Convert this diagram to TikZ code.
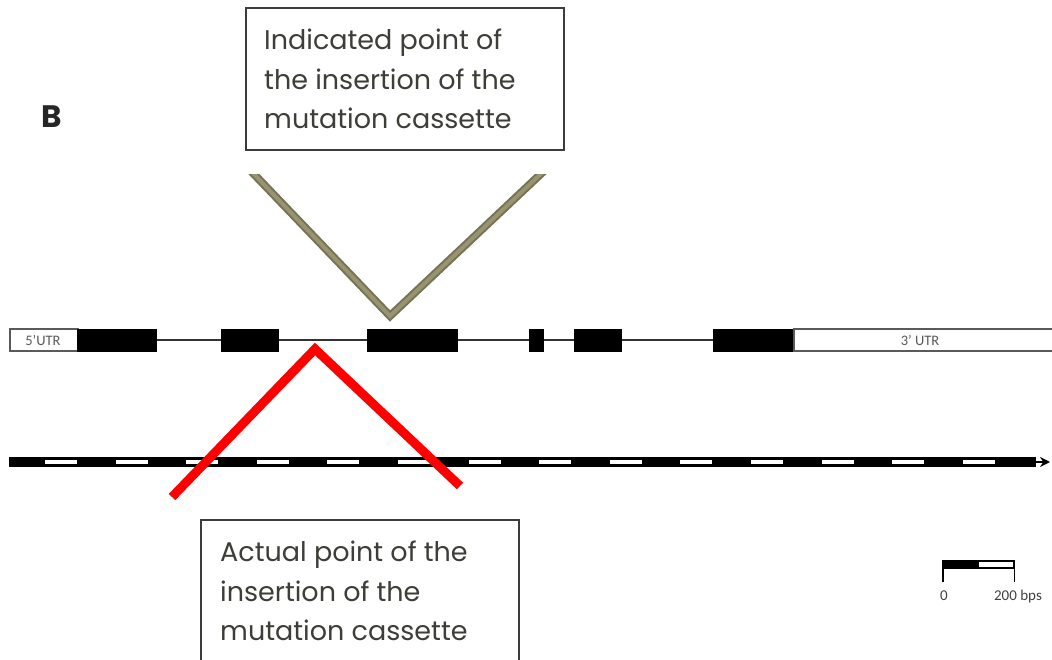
\documentclass[tikz,border=0pt]{standalone}
\usepackage{fontspec}
\setmainfont{Poppins}
\newfontfamily\smallfont{Carlito}
\usetikzlibrary{arrows.meta}
\definecolor{txtgray}{RGB}{62,62,56}
\definecolor{boxline}{RGB}{60,60,60}
\definecolor{oliveDark}{RGB}{118,114,84}
\definecolor{oliveLight}{RGB}{152,148,114}
\definecolor{utrgray}{RGB}{90,90,90}
\tikzset{
  callout/.style={draw=boxline, line width=2pt, fill=white, anchor=north west, inner sep=0pt},
  callouttext/.style={anchor=north west, align=left, inner sep=0pt, text=txtgray, font=\fontsize{27}{39.5}\selectfont},
  exon/.style={fill=black, draw=black, line width=1pt, anchor=west, minimum height=22pt, inner sep=0pt},
  utr/.style={fill=white, draw=utrgray, line width=1.5pt, anchor=west, minimum height=22pt, inner sep=0pt},
  utrlabel/.style={font=\smallfont\fontsize{14.5}{14.5}\selectfont, text=utrgray, inner sep=0pt},
  intron/.style={draw=black!80, line width=2.5pt},
  scalelabel/.style={font=\smallfont\fontsize{15}{15}\selectfont, text=black!75, inner sep=0pt, anchor=base},
  indicated/.style={draw=oliveDark, double=oliveLight, double distance=4pt, line width=2pt, line join=miter},
  actual/.style={draw=red, line width=9pt, line join=miter},
  sbar/.style={draw=black, line width=1.2pt, anchor=west, minimum height=7pt, minimum width=35pt, inner sep=0pt},
}
\begin{document}
\begin{tikzpicture}[x=1pt,y=-1pt]
\clip (0,0) rectangle (1052,659);
\fill[white] (0,0) rectangle (1052,659);

% panel label
\node[font=\fontsize{31}{31}\selectfont\bfseries, text=black!85, anchor=base west, inner sep=0pt] (B) at (41,127) {B};

% top callout
\node[callout, minimum width=318pt, minimum height=142pt] (topbox) at (245,7) {};
\node[callouttext] (toptext) at (264,29) {Indicated point of\\the insertion of the\\mutation cassette};

% bottom callout
\node[callout, minimum width=318pt, minimum height=200pt] (botbox) at (200,519) {};
\node[callouttext] (bottext) at (220,541) {Actual point of the\\insertion of the\\mutation cassette};

% gene model
\node[utr, minimum width=68pt] (utr5) at (9,340) {};
\node[utrlabel] (utr5lbl) at (43,340) {5’UTR};
\node[exon, minimum width=79pt] (e1) at (77,340) {};
\node[exon, minimum width=57pt] (e2) at (221,340) {};
\node[exon, minimum width=90pt] (e3) at (367,340) {};
\node[exon, minimum width=14pt] (e4) at (529,340) {};
\node[exon, minimum width=47pt] (e5) at (574,340) {};
\node[exon, minimum width=80pt] (e6) at (713,340) {};
\node[utr, minimum width=270pt] (utr3) at (793,340) {};
\node[utrlabel] (utr3lbl) at (920,340) {3’ UTR};
\draw[intron] (e1.east) -- (e2.west);
\draw[intron] (e2.east) -- (e3.west);
\draw[intron] (e3.east) -- (e4.west);
\draw[intron] (e4.east) -- (e5.west);
\draw[intron] (e5.east) -- (e6.west);

% dashed scale line
\coordinate (axS) at (9,462);
\coordinate (axE) at (1036,462);
\coordinate (axT) at (1050,462);
\fill[black] (9,457) rectangle (1036,467);
\foreach \k in {0,...,13} \fill[white] ({45+70.6*\k},460) rectangle +(32,4.3);
\draw[line width=2pt, -{Stealth[length=10pt,width=10pt]}] (axE) -- (axT);

% insertion markers
\coordinate (vL) at (250,170);
\coordinate (vA) at (390,316);
\coordinate (vR) at (545,170);
\begin{scope}
  \clip (0,174) rectangle (1052,659);
  \draw[indicated] (vL) -- (vA) -- (vR);
\end{scope}
\coordinate (rL) at (172,497);
\coordinate (rA) at (315,349);
\coordinate (rR) at (460,486);
\draw[actual] (rL) -- (rA) -- (rR);

% scale bar
\node[sbar, fill=black] (sbA) at (943,564.5) {};
\node[sbar, fill=white] (sbB) at (978,564.5) {};
\draw[line width=1.2pt] (sbA.north west) -- ++(0,22);
\draw[line width=1.2pt] (sbB.north east) -- ++(0,22);
\node[scalelabel] (s0) at (944,600) {0};
\node[scalelabel] (s200) at (1018,600) {200 bps};
\end{tikzpicture}
\end{document}
